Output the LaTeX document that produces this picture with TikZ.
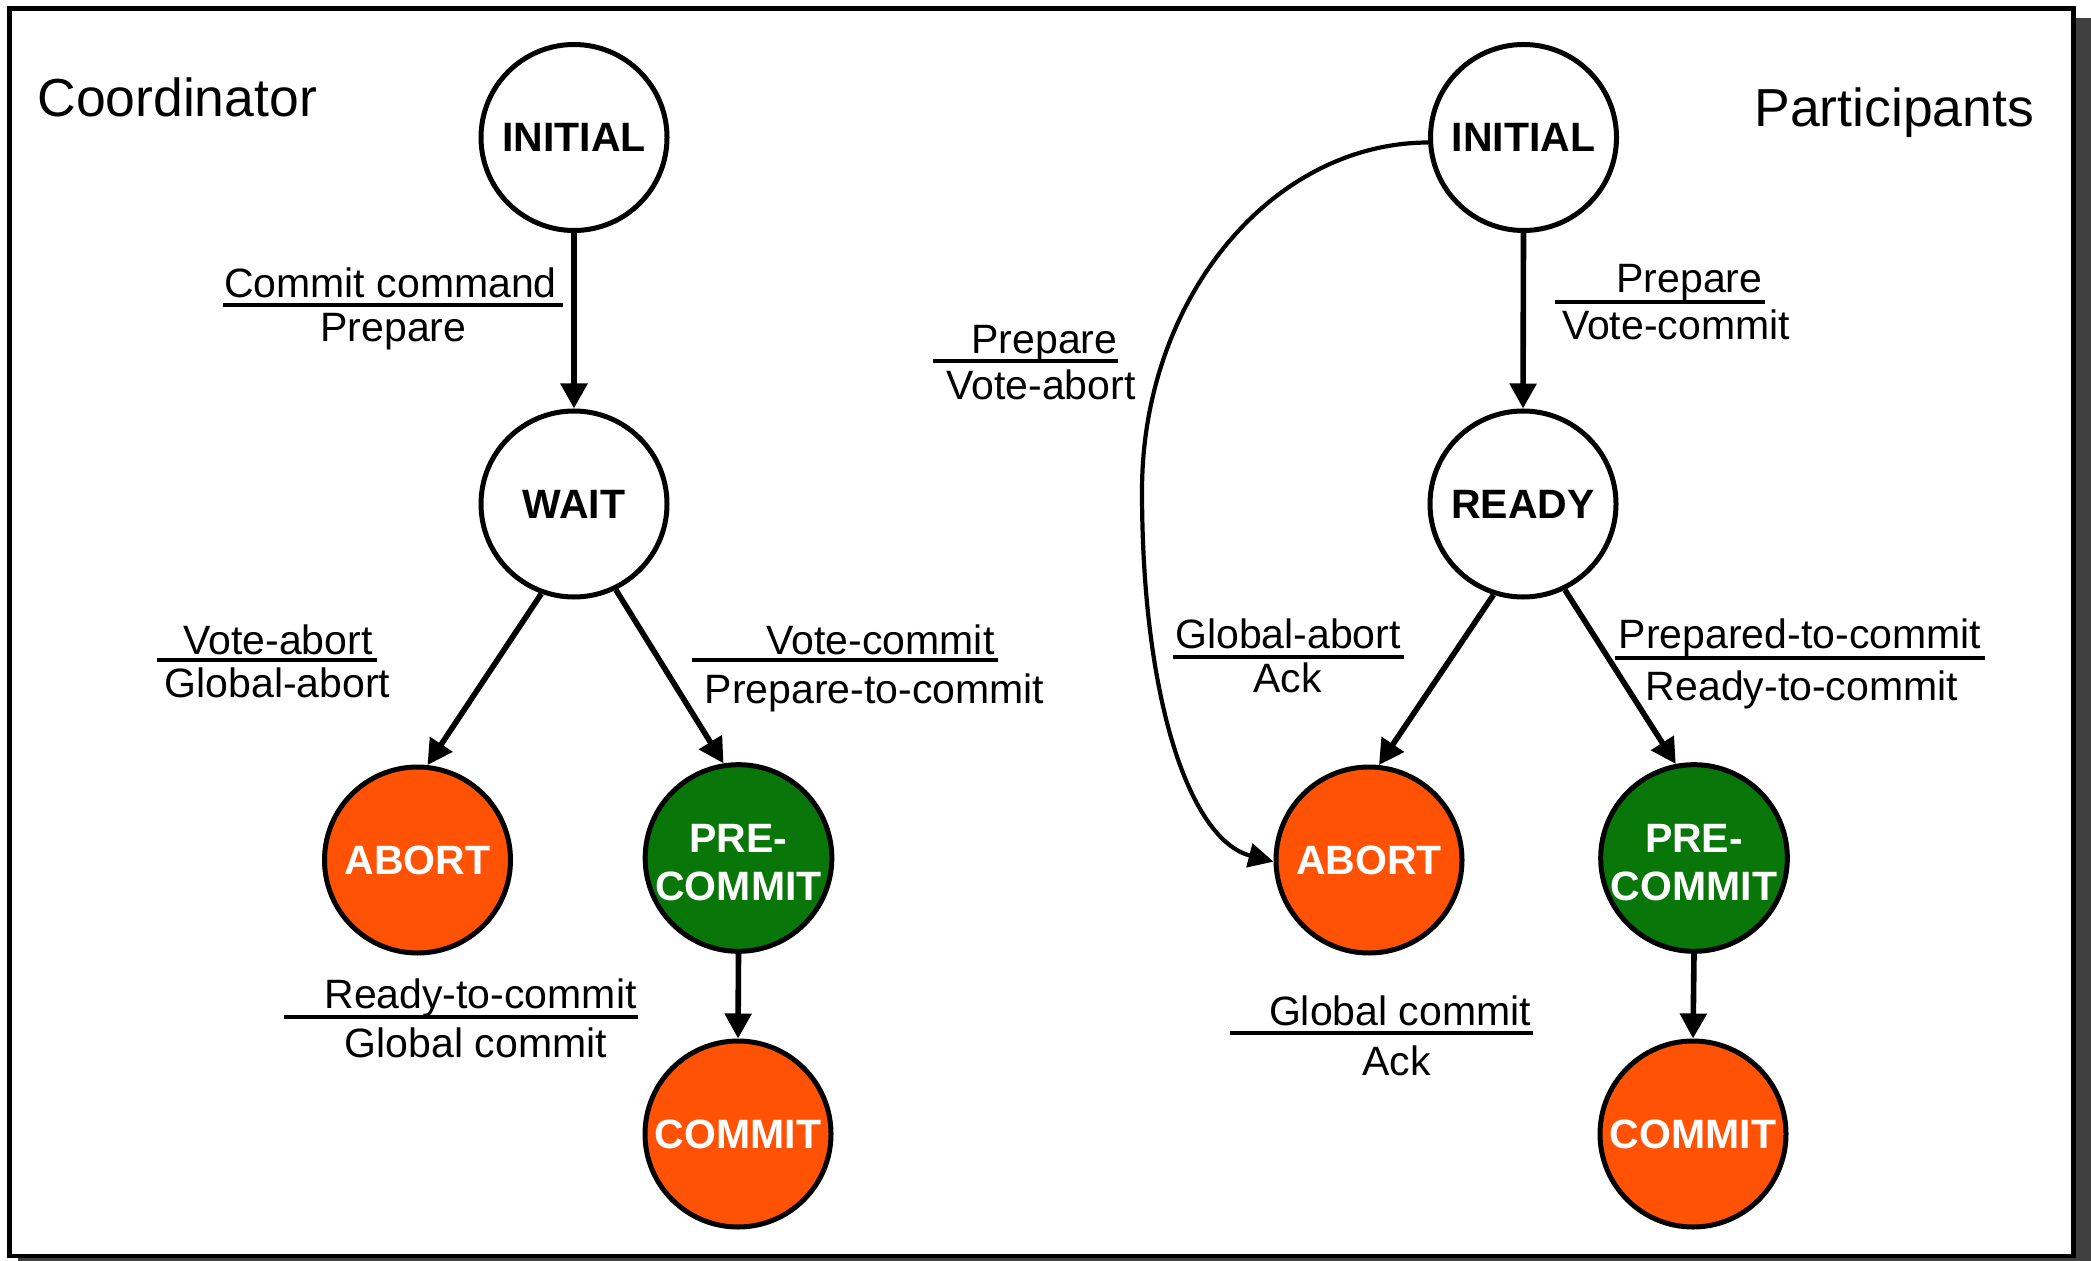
\documentclass[tikz,border=0pt]{standalone}
\usepackage{fontspec}
\setmainfont{Liberation Sans}
\usetikzlibrary{arrows.meta}
\definecolor{stOrange}{RGB}{255,82,5}
\definecolor{stGreen}{RGB}{8,118,8}
\definecolor{shadowgray}{RGB}{64,64,64}
\begin{document}
\begin{tikzpicture}[x=0.5pt,y=-0.5pt,
  stnode/.style={circle, draw=black, line width=2.5pt, minimum size=93pt, inner sep=0pt,
    font=\fontsize{20.5}{24}\selectfont\bfseries, align=center},
  idle/.style={stnode, fill=white, text=black},
  hot/.style={stnode, fill=stOrange, text=white},
  ok/.style={stnode, fill=stGreen, text=white},
  flow/.style={line width=2.8pt, -{Triangle[length=12.5pt,width=13pt]}},
  curveflow/.style={line width=2.1pt, -{Triangle[length=12.5pt,width=12pt]}},
  lbl/.style={anchor=base, inner sep=0pt, font=\fontsize{20.5}{24}\selectfont},
  headtxt/.style={anchor=base west, inner sep=0pt, font=\fontsize{26.75}{32}\selectfont},
  fracbar/.style={line width=2.4pt},
]
\useasboundingbox (0,0) rectangle (2091,1261);
% frame with shadow
\fill[shadowgray] (18,18) rectangle (2091,1261);
\filldraw[fill=white, draw=black, line width=2.3pt] (9.5,8.5) rectangle (2073.5,1256);

% headers
\node[headtxt] (hC) at (37,117) {Coordinator};
\node[headtxt] (hP) at (1754,127) {Participants};

% coordinator states
\node[idle] (cI) at (574,137.5) {INITIAL};
\node[idle] (cW) at (574,504) {WAIT};
\node[hot]  (cA) at (417.5,860) {ABORT};
\node[ok]   (cP) at (738.5,858) {\rule{0pt}{18.2pt}PRE-\\COMMIT};
\node[hot]  (cC) at (738,1134) {COMMIT};

% participant states
\node[idle] (pI) at (1523.5,137.5) {INITIAL};
\node[idle] (pR) at (1523,504) {READY};
\node[hot]  (pA) at (1369,860) {ABORT};
\node[ok]   (pP) at (1694,858) {\rule{0pt}{18.2pt}PRE-\\COMMIT};
\node[hot]  (pC) at (1693,1134) {COMMIT};

% coordinator transitions
\draw[flow] (cI.south) -- (cW.north);
\draw[flow] (cW.250) -- (cA.84);
\draw[flow] (cW.296) -- (cP.99);
\draw[flow] (cP.south) -- (cC.north);

% participant transitions
\draw[flow] (pI.south) -- (pR.north);
\draw[flow] (pR.252) -- (pA.84);
\draw[flow] (pR.296) -- (pP.101);
\draw[flow] (pP.south) -- (pC.north);
\coordinate (bend) at (1142,491);
\draw[curveflow] (pI.183) .. controls (1271,143) and (1142,299) .. (bend)
  .. controls (1142,700) and (1190,840) .. (pA.181);

% coordinator labels
\node[lbl] (l1a) at (390.5,298) {Commit command};
\draw[fracbar] (223,305) -- (563,305);
\node[lbl] (l1b) at (393.5,342) {Prepare};

\node[lbl] (l2a) at (278,654) {Vote-abort};
\draw[fracbar] (157,660) -- (377,660);
\node[lbl] (l2b) at (277.5,697) {Global-abort};

\node[lbl] (l3a) at (880.5,654) {Vote-commit};
\draw[fracbar] (692,660) -- (998,660);
\node[lbl] (l3b) at (874.5,703) {Prepare-to-commit};

\node[lbl] (l4a) at (480.5,1008) {Ready-to-commit};
\draw[fracbar] (284,1017) -- (638,1017);
\node[lbl] (l4b) at (476,1057) {Global commit};

% participant labels
\node[lbl] (l5a) at (1689.5,293) {Prepare};
\draw[fracbar] (1555,302) -- (1765,302);
\node[lbl] (l5b) at (1676,340) {Vote-commit};

\node[lbl] (l6a) at (1044.5,354) {Prepare};
\draw[fracbar] (933,361) -- (1118,361);
\node[lbl] (l6b) at (1041,400) {Vote-abort};

\node[lbl] (l7a) at (1288,648) {Global-abort};
\draw[fracbar] (1173,657) -- (1404,657);
\node[lbl] (l7b) at (1287.5,692) {Ack};

\node[lbl] (l8a) at (1800,648) {Prepared-to-commit};
\draw[fracbar] (1615,658) -- (1985,658);
\node[lbl] (l8b) at (1802,700) {Ready-to-commit};

\node[lbl] (l9a) at (1400,1025) {Global commit};
\draw[fracbar] (1230,1033) -- (1533,1033);
\node[lbl] (l9b) at (1396.5,1075) {Ack};
\end{tikzpicture}
\end{document}
